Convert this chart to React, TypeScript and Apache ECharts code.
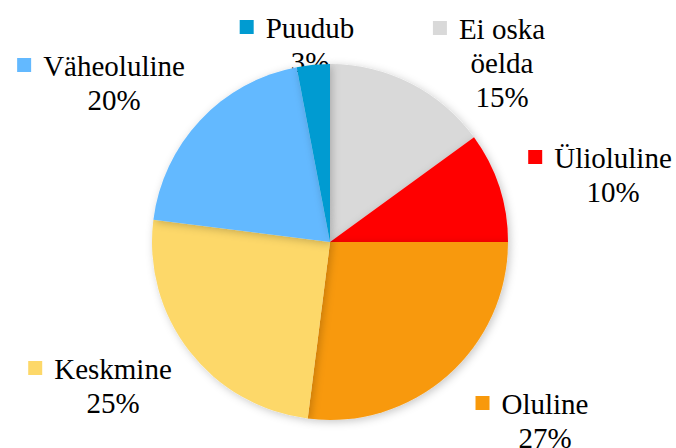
import React, { useEffect, useRef } from "react";
import * as echarts from "echarts";

const categories = ["Ei oska öelda", "Ülioluline", "Oluline", "Keskmine", "Väheoluline", "Puudub"];
const values = [15, 10, 27, 25, 20, 3];
const colors = ["#D9D9D9", "#FF0000", "#F8990B", "#FDD869", "#63B9FF", "#009BD1"];
const labelLines: Record<string, string[]> = { "Ei oska öelda": ["Ei oska", "öelda"] };
// label block centres (layout only)
const labelPos = [
  [502, 63],
  [613, 175],
  [545, 421],
  [113, 386],
  [114, 83],
  [310, 45],
];

const FONT_FAMILY = "Liberation Serif";
const FONT_SIZE = 29;
const LINE_H = 34;
const SQ = 14;
const GAP = 12;

function measure(text: string): number {
  const c = document.createElement("canvas").getContext("2d");
  if (!c) return text.length * FONT_SIZE * 0.45;
  c.font = `${FONT_SIZE}px "${FONT_FAMILY}"`;
  return c.measureText(text).width;
}

export default function App() {
  const ref = useRef<HTMLDivElement>(null);
  useEffect(() => {
    if (!ref.current) return;
    const chart = echarts.init(ref.current, null, { renderer: "svg" });
    const graphics: any[] = [];
    categories.forEach((name, i) => {
      const lines = [...(labelLines[name] || [name]), `${values[i]}%`];
      const [cx, cy] = labelPos[i];
      const firstY = cy - ((lines.length - 1) * LINE_H) / 2;
      lines.forEach((line, k) => {
        graphics.push({
          type: "text",
          x: cx,
          y: firstY + k * LINE_H,
          silent: true,
          style: {
            text: line,
            fontFamily: FONT_FAMILY,
            fontSize: FONT_SIZE,
            fill: "#000",
            align: "center",
            verticalAlign: "middle",
          },
        });
      });
      const w = measure(lines[0]);
      graphics.push({
        type: "rect",
        silent: true,
        shape: { x: cx - w / 2 - GAP - SQ, y: firstY - SQ / 2 - 1, width: SQ, height: SQ },
        style: { fill: colors[i] },
      });
    });
    chart.setOption({
      animation: false,
      backgroundColor: "#fff",
      graphic: graphics,
      series: [
        {
          type: "pie",
          center: [330, 242],
          radius: 178,
          startAngle: 90,
          clockwise: true,
          itemStyle: {
            shadowBlur: 8,
            shadowColor: "rgba(0,0,0,0.22)",
            shadowOffsetX: 2,
            shadowOffsetY: 2,
          },
          emphasis: { disabled: true },
          labelLine: { show: false },
          label: { show: false },
          data: categories.map((name, i) => ({
            name,
            value: values[i],
            itemStyle: { color: colors[i] },
          })),
        },
      ],
    });
    return () => chart.dispose();
  }, []);
  return (
    <div
      ref={ref}
      style={{ position: "fixed", left: 0, top: 0, width: 676, height: 448 }}
    />
  );
}
